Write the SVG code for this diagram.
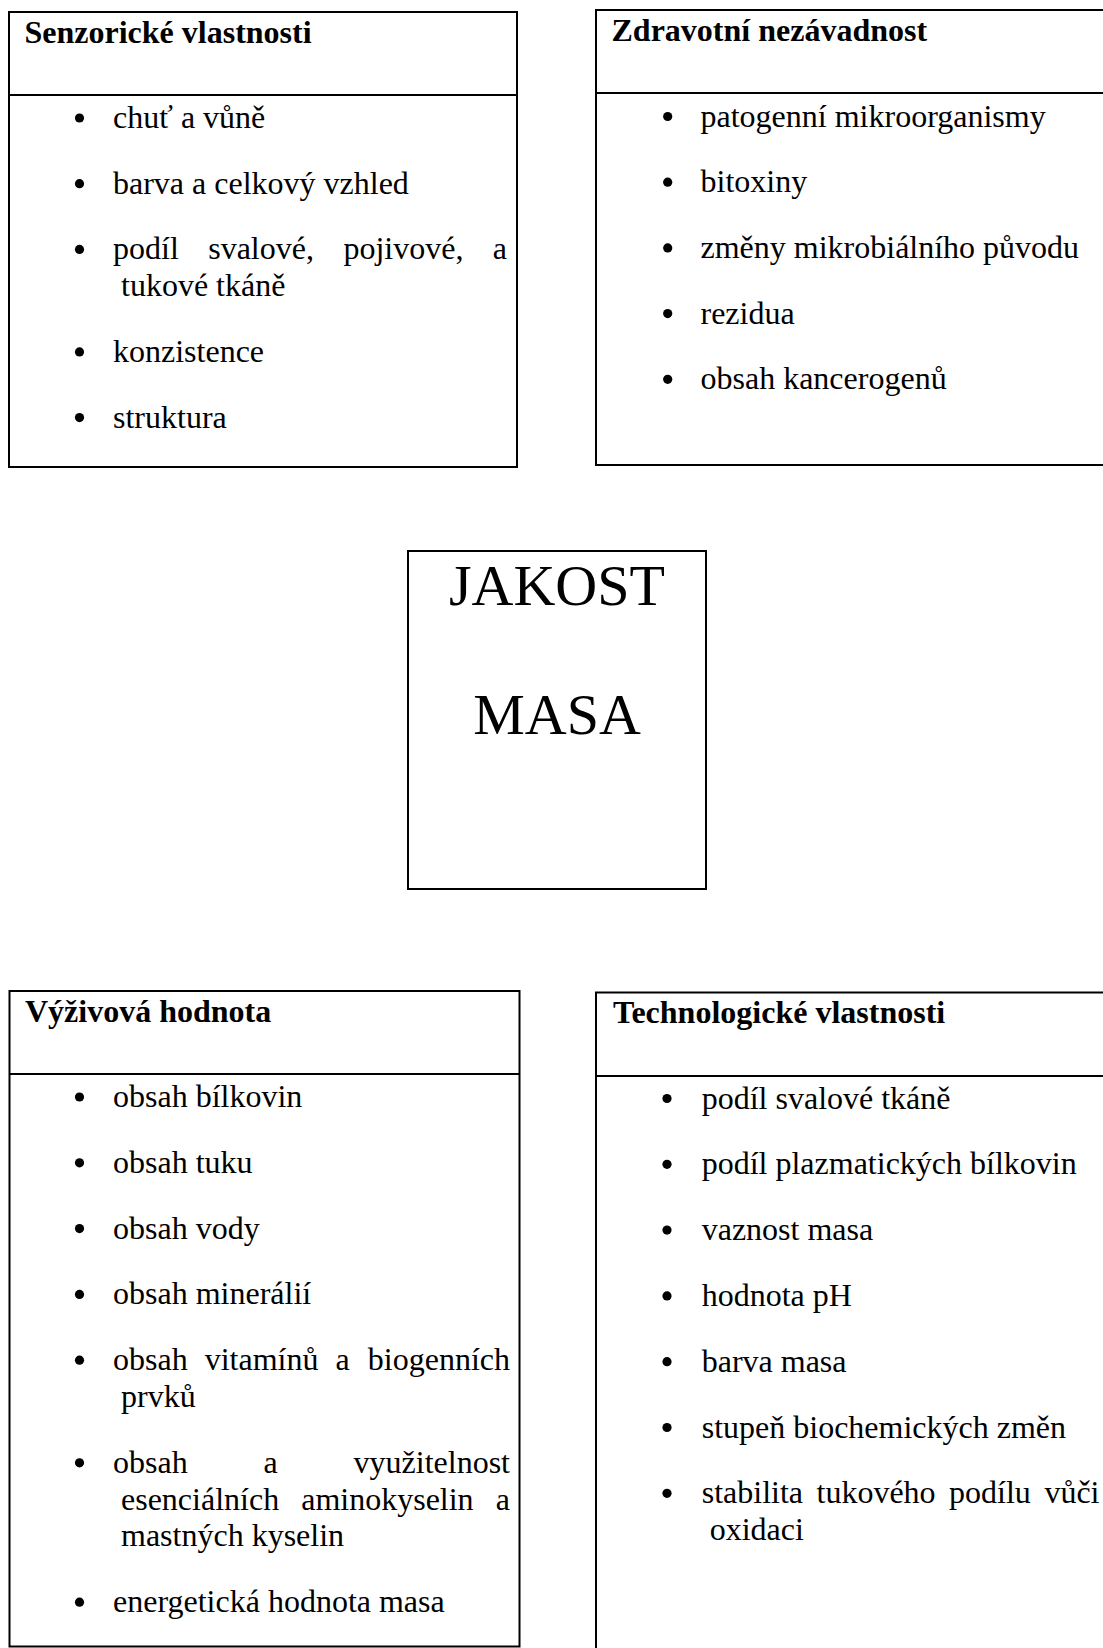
<svg xmlns="http://www.w3.org/2000/svg" width="1103" height="1648" viewBox="0 0 1103 1648">
<style>
.box{fill:none;stroke:#000;stroke-width:2}
.div{stroke:#000;stroke-width:2}
.t{font-family:"Liberation Serif","Times New Roman",serif;font-size:32px;fill:#000}
.h{font-family:"Liberation Serif","Times New Roman",serif;font-size:32px;font-weight:bold;fill:#000}
.big{font-family:"Liberation Serif","Times New Roman",serif;font-size:58px;fill:#000;text-anchor:middle}
.b{fill:#000}
.e{text-anchor:end}
</style>
<rect width="1103" height="1648" fill="#fff"/>
<g id="connectors"/>

<g id="senzoricke">
<rect class="box" x="9" y="12" width="508" height="455"/>
<line class="div" x1="9" y1="95" x2="517" y2="95"/>
<text class="h" x="24.5" y="42.7">Senzorické vlastnosti</text>
<circle class="b" cx="79.5" cy="118" r="4.6"/>
<text class="t" x="113" y="128">chuť a vůně</text>
<circle class="b" cx="79.5" cy="183.7" r="4.6"/>
<text class="t" x="113" y="193.7">barva a celkový vzhled</text>
<circle class="b" cx="79.5" cy="249.4" r="4.6"/>
<text class="t" x="113" y="259.4">podíl</text>
<text class="t" x="208.2" y="259.4">svalové,</text>
<text class="t" x="343.4" y="259.4">pojivové,</text>
<text class="t e" x="507" y="259.4">a</text>
<text class="t" x="121" y="296.2">tukové tkáně</text>
<circle class="b" cx="79.5" cy="351.9" r="4.6"/>
<text class="t" x="113" y="361.9">konzistence</text>
<circle class="b" cx="79.5" cy="417.6" r="4.6"/>
<text class="t" x="113" y="427.6">struktura</text>
</g>

<g id="zdravotni">
<rect class="box" x="596" y="10" width="520" height="455"/>
<line class="div" x1="596" y1="93" x2="1116" y2="93"/>
<text class="h" x="611.5" y="40.7">Zdravotní nezávadnost</text>
<circle class="b" cx="667.7" cy="116.5" r="4.6"/>
<text class="t" x="700.5" y="126.5">patogenní mikroorganismy</text>
<circle class="b" cx="667.7" cy="182.2" r="4.6"/>
<text class="t" x="700.5" y="192.2">bitoxiny</text>
<circle class="b" cx="667.7" cy="247.9" r="4.6"/>
<text class="t" x="700.5" y="257.9">změny mikrobiálního původu</text>
<circle class="b" cx="667.7" cy="313.6" r="4.6"/>
<text class="t" x="700.5" y="323.6">rezidua</text>
<circle class="b" cx="667.7" cy="379.3" r="4.6"/>
<text class="t" x="700.5" y="389.3">obsah kancerogenů</text>
</g>

<g id="jakost">
<rect class="box" x="408" y="551" width="298" height="338"/>
<text class="big" x="557" y="605">JAKOST</text>
<text class="big" x="557" y="734">MASA</text>
</g>

<g id="vyzivova">
<rect class="box" x="9.5" y="991" width="510" height="655.5"/>
<line class="div" x1="9.5" y1="1074" x2="519.5" y2="1074"/>
<text class="h" x="25" y="1021.7">Výživová hodnota</text>
<circle class="b" cx="79.5" cy="1097" r="4.6"/>
<text class="t" x="113" y="1107">obsah bílkovin</text>
<circle class="b" cx="79.5" cy="1162.8" r="4.6"/>
<text class="t" x="113" y="1172.8">obsah tuku</text>
<circle class="b" cx="79.5" cy="1228.6" r="4.6"/>
<text class="t" x="113" y="1238.6">obsah vody</text>
<circle class="b" cx="79.5" cy="1294.4" r="4.6"/>
<text class="t" x="113" y="1304.4">obsah minerálií</text>
<circle class="b" cx="79.5" cy="1360.2" r="4.6"/>
<text class="t" x="113" y="1370.2">obsah</text>
<text class="t" x="204.7" y="1370.2">vitamínů</text>
<text class="t" x="335.5" y="1370.2">a</text>
<text class="t e" x="510" y="1370.2">biogenních</text>
<text class="t" x="121" y="1407">prvků</text>
<circle class="b" cx="79.5" cy="1462.8" r="4.6"/>
<text class="t" x="113" y="1472.8">obsah</text>
<text class="t" x="263.5" y="1472.8">a</text>
<text class="t e" x="510" y="1472.8">využitelnost</text>
<text class="t" x="121" y="1509.6">esenciálních</text>
<text class="t" x="301.2" y="1509.6">aminokyselin</text>
<text class="t e" x="510" y="1509.6">a</text>
<text class="t" x="121" y="1546.4">mastných kyselin</text>
<circle class="b" cx="79.5" cy="1602.2" r="4.6"/>
<text class="t" x="113" y="1612.2">energetická hodnota masa</text>
</g>

<g id="technologicke">
<rect class="box" x="596" y="992.5" width="520" height="700"/>
<line class="div" x1="596" y1="1076" x2="1116" y2="1076"/>
<text class="h" x="613" y="1023.3">Technologické vlastnosti</text>
<circle class="b" cx="667" cy="1098.5" r="4.6"/>
<text class="t" x="701.7" y="1108.5">podíl svalové tkáně</text>
<circle class="b" cx="667" cy="1164.3" r="4.6"/>
<text class="t" x="701.7" y="1174.3">podíl plazmatických bílkovin</text>
<circle class="b" cx="667" cy="1230.1" r="4.6"/>
<text class="t" x="701.7" y="1240.1">vaznost masa</text>
<circle class="b" cx="667" cy="1295.9" r="4.6"/>
<text class="t" x="701.7" y="1305.9">hodnota pH</text>
<circle class="b" cx="667" cy="1361.7" r="4.6"/>
<text class="t" x="701.7" y="1371.7">barva masa</text>
<circle class="b" cx="667" cy="1427.5" r="4.6"/>
<text class="t" x="701.7" y="1437.5">stupeň biochemických změn</text>
<circle class="b" cx="667" cy="1493.3" r="4.6"/>
<text class="t" x="701.7" y="1503.3">stabilita</text>
<text class="t" x="816.5" y="1503.3">tukového</text>
<text class="t" x="949" y="1503.3">podílu</text>
<text class="t" x="1044.4" y="1503.3">vůči</text>
<text class="t" x="709.7" y="1540.1">oxidaci</text>
</g>
</svg>
